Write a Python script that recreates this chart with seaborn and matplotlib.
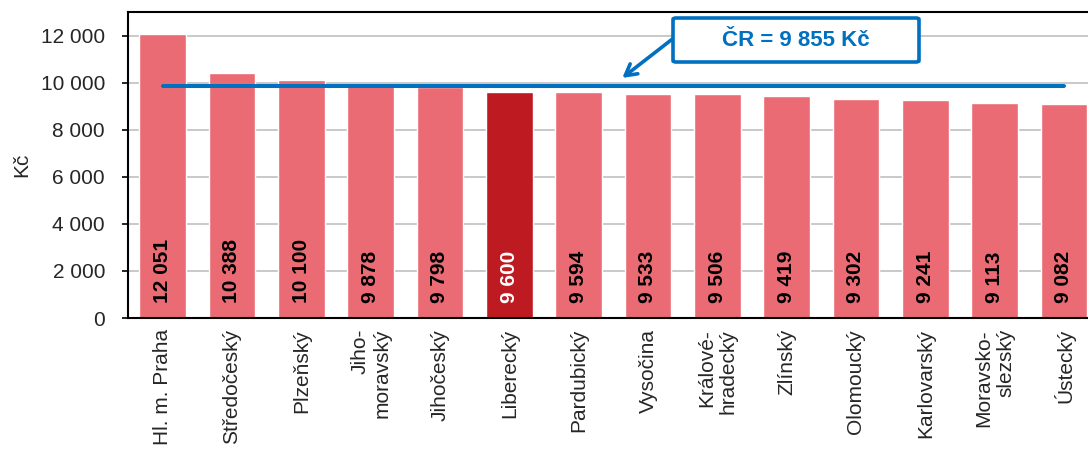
import matplotlib
matplotlib.use("Agg")
import matplotlib.pyplot as plt
import seaborn as sns
import numpy as np
from matplotlib.patches import FancyBboxPatch

categories = ["Hl. m. Praha", "Středočeský", "Plzeňský", "Jiho-\nmoravský", "Jihočeský",
              "Liberecký", "Pardubický", "Vysočina", "Králové-\nhradecký", "Zlínský",
              "Olomoucký", "Karlovarský", "Moravsko-\nslezský", "Ústecký"]
values = [12051, 10388, 10100, 9878, 9798, 9600, 9594, 9533, 9506, 9419, 9302, 9241, 9113, 9082]
highlight = "Liberecký"
average = 9855
avg_label = "ČR = 9 855 Kč"
y_ticks = [0, 2000, 4000, 6000, 8000, 10000, 12000]

sns.set_style("white")
plt.rcParams["font.family"] = ["Liberation Sans", "DejaVu Sans"]

fig = plt.figure(figsize=(10.88, 4.5), dpi=100)
ax = fig.add_axes([128/1088, 132/450, 970.6/1088, 306/450])

light = "#EA6B73"
dark = "#BE1A22"
palette = {c: (dark if c == highlight else light) for c in categories}

sns.barplot(x=categories, y=values, hue=categories, palette=palette, legend=False,
            width=0.67, ax=ax, saturation=1, zorder=2)

ax.set_xlim(-0.5, len(categories) - 0.5)
ax.set_ylim(0, 13000)
ax.set_yticks(y_ticks)
ax.set_yticklabels([f"{v:,}".replace(",", " ") for v in y_ticks])
ax.yaxis.grid(True, color="#C0C0C0", lw=1.2, zorder=0)
ax.set_axisbelow(True)

# x ticks: labels at centers, tick marks at boundaries
ax.set_xticks(np.arange(len(categories)))
ax.set_xticklabels(categories, rotation=90, ha="center", va="top", multialignment="right")
ax.set_xticks(np.arange(len(categories) + 1) - 0.5, minor=True)
ax.tick_params(axis="x", which="major", length=0, pad=8, labelsize=15)
ax.tick_params(axis="x", which="minor", length=4.5, width=1.2, color="black", direction="out")
ax.tick_params(axis="y", length=4.5, width=1.2, color="black", direction="out", pad=12, labelsize=15, left=True)
ax.set_xlabel("")
ax.set_ylabel("Kč", fontsize=15, labelpad=7)

for s in ax.spines.values():
    s.set_visible(True)
    s.set_color("black")
    s.set_linewidth(1.5)

# value labels
for i, (c, v) in enumerate(zip(categories, values)):
    ax.text(i, 650, f"{v:,}".replace(",", " "), rotation=90, ha="center", va="bottom",
            fontsize=15, fontweight="bold", color=("white" if c == highlight else "black"), zorder=3)

# average line
ax.plot([0, len(categories) - 1], [average, average], color="#0070C0", lw=2.9, zorder=4,
        solid_capstyle="round")

# annotation box
box = FancyBboxPatch((673/1088, 1 - 62/450), (919 - 673)/1088, 44/450,
                     boxstyle="round,pad=0,rounding_size=0.003", transform=fig.transFigure,
                     fc="white", ec="#0070C0", lw=2.6, zorder=5)
fig.patches.append(box)
fig.text(796/1088, 1 - 41/450, avg_label, ha="center", va="center", fontsize=16,
         fontweight="bold", color="#0070C0", zorder=6)
ax.annotate("", xy=(6.63, 10200), xycoords="data",
            xytext=(675/1088, 1 - 37/450), textcoords="figure fraction",
            arrowprops=dict(arrowstyle="->,head_length=0.8,head_width=0.45", color="#0070C0", lw=2.6,
                            shrinkA=0, shrinkB=0), zorder=5)

fig.savefig("out.png", dpi=100)
